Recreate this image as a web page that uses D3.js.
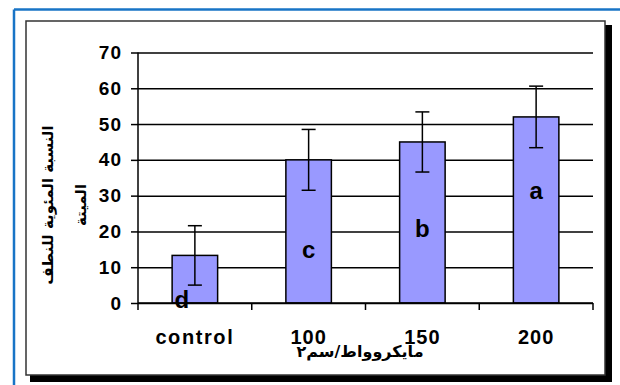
<!DOCTYPE html>
<html>
<head>
<meta charset="utf-8">
<script src="https://cdn.jsdelivr.net/npm/d3@7/dist/d3.min.js"></script>
<style>
  body { margin: 0; background: #fff; }
  svg { display: block; }
</style>
</head>
<body>
<div id="chart"></div>
<script>
// data
var categories = ["control", "100", "150", "200"];
var means = [13.3, 40, 45, 52];
var errors = [8.3, 8.5, 8.4, 8.6];
var letters = ["d", "c", "b", "a"];
var letterAt = [-1.4, 12.6, 18.5, 29];   // baseline of the group letter, in y units
var yTicks = [0, 10, 20, 30, 40, 50, 60, 70];
var yTitle = ["النسبة المئوية للنطف", "الميتة"];
var xTitle = "مايكروواط/سم٢";

var width = 620, height = 385;
var plot = { left: 138, right: 593, top: 52.5, bottom: 303 };

var svg = d3.select("#chart").append("svg")
  .attr("width", width)
  .attr("height", height);

// outer blue frame (only top and left edges fall inside the picture)
svg.append("line").attr("x1", 14).attr("x2", 620).attr("y1", 9.5).attr("y2", 9.5)
  .attr("stroke", "#1874c6").attr("stroke-width", 2.5);
svg.append("line").attr("x1", 14).attr("x2", 14).attr("y1", 9.5).attr("y2", 385)
  .attr("stroke", "#1874c6").attr("stroke-width", 2.5);

// chart area with drop shadow
svg.append("rect").attr("x", 30).attr("y", 25).attr("width", 582).attr("height", 357)
  .attr("fill", "#000");
svg.append("rect").attr("x", 26).attr("y", 21).attr("width", 579).attr("height", 354)
  .attr("fill", "#fff").attr("stroke", "#333").attr("stroke-width", 1.5);

var x = d3.scaleBand()
  .domain(categories)
  .range([plot.left, plot.right])
  .paddingInner(0.6)
  .paddingOuter(0.3);

var y = d3.scaleLinear()
  .domain([0, 70])
  .range([plot.bottom, plot.top]);

// gridlines
svg.append("g")
  .attr("transform", "translate(" + plot.left + ",0)")
  .call(d3.axisLeft(y).tickValues(yTicks).tickSize(-(plot.right - plot.left)).tickFormat(""))
  .call(function (g) { g.select(".domain").remove(); })
  .selectAll("line").attr("stroke", "#000").attr("stroke-width", 1.5);

// y axis
var yAxis = svg.append("g")
  .attr("transform", "translate(" + plot.left + ",0)")
  .call(d3.axisLeft(y).tickValues(yTicks).tickSize(7).tickPadding(9));
yAxis.selectAll("line, path").attr("stroke", "#000").attr("stroke-width", 1.5);
yAxis.select(".domain").attr("d", "M0," + plot.top + "V" + plot.bottom);
yAxis.selectAll("text")
  .attr("font-family", "'Liberation Sans', Arial, sans-serif")
  .attr("font-weight", "bold")
  .attr("font-size", 19)
  .attr("letter-spacing", 1)
  .attr("fill", "#000");

// bars
var bars = svg.append("g");
bars.selectAll("rect")
  .data(categories)
  .enter().append("rect")
  .attr("x", function (d) { return x(d); })
  .attr("y", function (d, i) { return y(means[i]); })
  .attr("width", x.bandwidth())
  .attr("height", function (d, i) { return y(0) - y(means[i]); })
  .attr("fill", "#9999ff")
  .attr("stroke", "#000")
  .attr("stroke-width", 1.5);

// x axis: baseline plus ticks on the category boundaries
var xAxis = svg.append("g").attr("transform", "translate(0," + plot.bottom + ")");
xAxis.append("line")
  .attr("x1", plot.left).attr("x2", plot.right)
  .attr("stroke", "#000").attr("stroke-width", 1.5);
var edges = d3.range(categories.length + 1).map(function (i) { return plot.left + i * x.step(); });
xAxis.selectAll(".edge")
  .data(edges)
  .enter().append("line")
  .attr("class", "edge")
  .attr("x1", function (d) { return d; }).attr("x2", function (d) { return d; })
  .attr("y1", 0).attr("y2", 7)
  .attr("stroke", "#000").attr("stroke-width", 1.5);
xAxis.selectAll(".lbl")
  .data(categories)
  .enter().append("text")
  .attr("class", "lbl")
  .attr("x", function (d) { return x(d) + x.bandwidth() / 2; })
  .attr("y", 41)
  .attr("text-anchor", "middle")
  .attr("font-family", "'Liberation Sans', Arial, sans-serif")
  .attr("font-weight", "bold")
  .attr("font-size", 20)
  .attr("letter-spacing", function (d) { return d == "control" ? 1.6 : 1; })
  .text(function (d) { return d; });

// error bars
var eb = svg.append("g").attr("stroke", "#000").attr("stroke-width", 1.5);
categories.forEach(function (c, i) {
  var cx = x(c) + x.bandwidth() / 2;
  var hi = y(means[i] + errors[i]), lo = y(means[i] - errors[i]);
  eb.append("line").attr("x1", cx).attr("x2", cx).attr("y1", hi).attr("y2", lo);
  eb.append("line").attr("x1", cx - 7).attr("x2", cx + 7).attr("y1", hi).attr("y2", hi);
  eb.append("line").attr("x1", cx - 7).attr("x2", cx + 7).attr("y1", lo).attr("y2", lo);
});

// group letters
svg.append("g").selectAll("text")
  .data(letters)
  .enter().append("text")
  .attr("x", function (d, i) { return x(categories[i]) + x.bandwidth() / 2 + (i == 0 ? -13 : 0); })
  .attr("y", function (d, i) { return y(letterAt[i]); })
  .attr("text-anchor", "middle")
  .attr("font-family", "'Liberation Sans', Arial, sans-serif")
  .attr("font-weight", "bold")
  .attr("font-size", 24)
  .text(function (d) { return d; });

// axis titles
svg.append("text")
  .attr("x", 360).attr("y", 357)
  .attr("text-anchor", "middle")
  .attr("font-family", "'DejaVu Sans', sans-serif")
  .attr("font-weight", "bold")
  .attr("font-size", 16)
  .attr("direction", "rtl")
  .text(xTitle);

svg.append("g").selectAll("text")
  .data(yTitle)
  .enter().append("text")
  .attr("transform", function (d, i) { return "translate(" + (53 + i * 33) + ",205) rotate(-90)"; })
  .attr("text-anchor", "middle")
  .attr("font-family", "'DejaVu Sans', sans-serif")
  .attr("font-weight", "bold")
  .attr("font-size", 15)
  .attr("direction", "rtl")
  .text(function (d) { return d; });
</script>
</body>
</html>
